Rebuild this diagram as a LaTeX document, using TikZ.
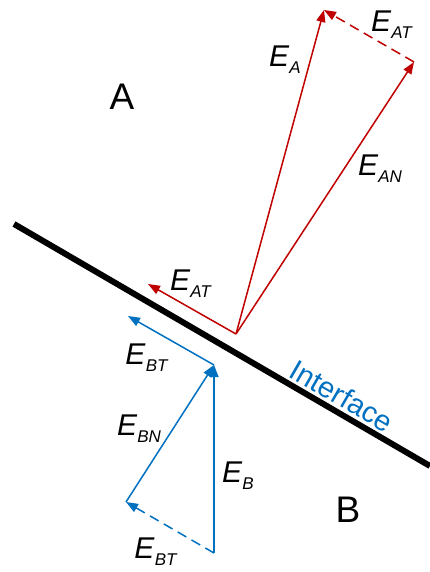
\documentclass[tikz,border=0pt]{standalone}
\usepackage{fontspec}
\setmainfont{Liberation Sans}
\usetikzlibrary{arrows.meta}
\definecolor{fieldA}{HTML}{C00000}
\definecolor{fieldB}{HTML}{0070C0}
\newcommand{\field}[1]{\textit{E}\raisebox{-7pt}{\fontsize{17}{17}\selectfont\textit{#1}}}

\begin{document}
\begin{tikzpicture}[x=1pt,y=-1pt,>={Triangle[length=12pt,width=9pt]},every node/.style={inner sep=0pt,font=\fontsize{30}{30}\selectfont}]
\useasboundingbox (0,0) rectangle (430,572);
% interface
\coordinate (il) at (14,224);
\coordinate (ir) at (430,466);
\draw[line width=6pt] (il) -- (ir);
\node[fieldB,rotate=-30,font=\fontsize{29}{29}\selectfont] (iface) at (342,396) {Interface};
\node[font=\fontsize{37}{37}\selectfont] (ma) at (122,97) {A};
\node[font=\fontsize{37}{37}\selectfont] (mb) at (348,510) {B};
% medium A
\coordinate (oa) at (236,334);
\coordinate (ea) at (324,10);
\coordinate (ean) at (414,62);
\coordinate (eat) at (148,284);
\draw[->,fieldA,line width=1.5pt] (oa) -- (ea);
\draw[->,fieldA,line width=1.5pt] (oa) -- (ean);
\draw[->,fieldA,line width=1.5pt,dash pattern=on 10pt off 6pt] (ean) -- (ea);
\draw[->,fieldA,line width=1.5pt] (oa) -- (eat);
\node (lea) at (285,60) {\field{A}};
\node (leat) at (392,25) {\field{AT}};
\node (lean) at (380,169) {\field{AN}};
\node (leat2) at (191,284) {\field{AT}};
% medium B
\coordinate (ob) at (214,553);
\coordinate (eb) at (214,365);
\coordinate (ebn) at (126,502);
\coordinate (ebt) at (128,316);
\draw[->,fieldB,line width=1.5pt] (ob) -- (eb);
\draw[->,fieldB,line width=1.5pt] (ebn) -- (eb);
\draw[->,fieldB,line width=1.5pt,dash pattern=on 10pt off 6pt] (ob) -- (ebn);
\draw[->,fieldB,line width=1.5pt] (eb) -- (ebt);
\node (lebt) at (147,358) {\field{BT}};
\node (lebn) at (139,429) {\field{BN}};
\node (leb) at (238,476) {\field{B}};
\node (lebt2) at (156,552) {\field{BT}};
\end{tikzpicture}
\end{document}
